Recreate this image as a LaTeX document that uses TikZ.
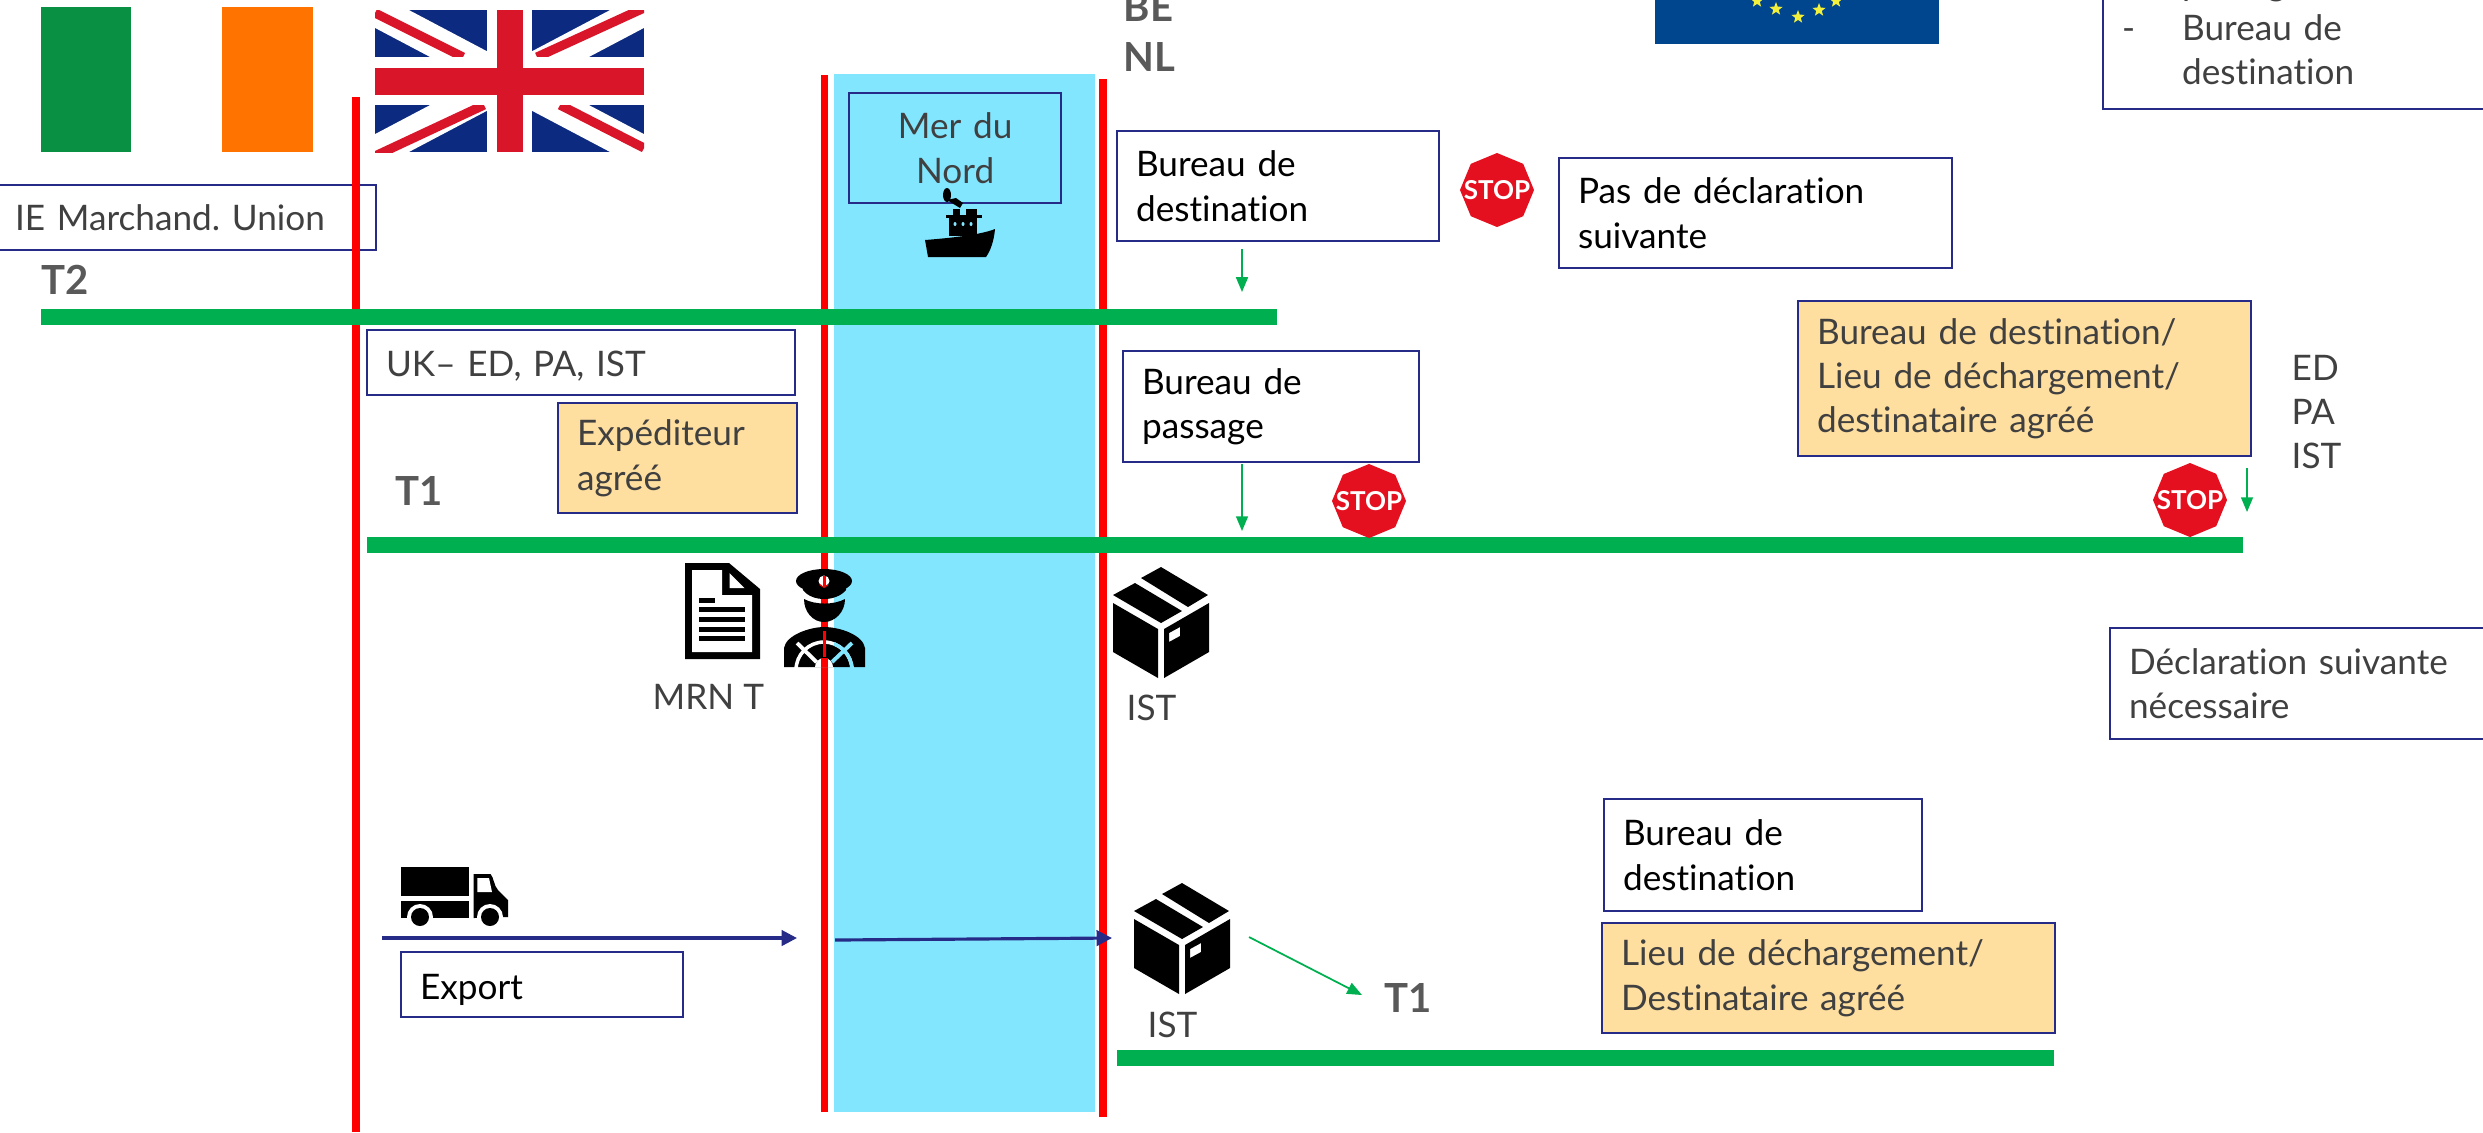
\documentclass[tikz,border=0pt]{standalone}
\usepackage{fontspec}
\setmainfont{Lato}[Ligatures=NoCommon]
\frenchspacing
\usetikzlibrary{arrows.meta,shapes.geometric}
\definecolor{bordure}{HTML}{262B87}
\definecolor{vertbarre}{HTML}{00B050}
\definecolor{mer}{HTML}{83E6FF}
\definecolor{orangeclair}{HTML}{FFDFA0}
\definecolor{grisfonce}{HTML}{404040}
\definecolor{griscode}{HTML}{595959}
\definecolor{rougestop}{HTML}{E5101F}
\definecolor{bleuuk}{HTML}{0B2A80}
\definecolor{rougeuk}{HTML}{D9152A}
\definecolor{bleueu}{HTML}{00468F}
\definecolor{jauneeu}{HTML}{F2F03A}
\definecolor{vertie}{HTML}{0A9043}
\definecolor{orangeie}{HTML}{FF7300}
\newcommand{\stoptexte}{\raisebox{-0.09cm}[0pt][0pt]{\makebox[0pt]{STOP}}}
\tikzset{
	texte/.style={font=\fontsize{10}{12.6}\selectfont},
	boite/.style 2 args={texte,draw=bordure,line width=0.6pt,anchor=north west,align=left,inner xsep=0.19cm,inner ysep=0pt,text width=#1-0.38cm,minimum height=#2,text=black},
	boiteorange/.style 2 args={boite={#1}{#2},fill=orangeclair,text=grisfonce},
	etiquette/.style={texte,anchor=west,inner sep=0pt,align=left,text=grisfonce},
	code/.style={font=\fontsize{11.4}{14}\selectfont\bfseries,anchor=west,inner sep=0pt,align=left,text=griscode},
	frontiere/.style={fill=red},
	barre/.style={fill=vertbarre},
	flecheverte/.style={-{Triangle[length=4.2pt,width=3.4pt]},vertbarre,line width=0.5pt},
	flechebleue/.style={-{Triangle[length=4.4pt,width=4.4pt]},bordure,line width=0.9pt},
	panneau/.style={regular polygon,regular polygon sides=8,shape border rotate=22.5,fill=rougestop,inner sep=0pt,minimum size=0.74cm,text=white,font=\fontsize{7.4}{8}\selectfont\bfseries},
	etoile/.style={star,star points=5,star point ratio=2.4,fill=jauneeu,inner sep=0pt,minimum size=0.14cm},
	colis/.pic={
		\fill[black] (48,0) -- (95,28) -- (75,40) -- (28,11) -- cycle;
		\fill[black] (22,16) -- (69,44) -- (48,56) -- (0,28) -- cycle;
		\fill[black] (0,36) -- (45,62) -- (45,111) -- (0,85) -- cycle;
		\fill[black,even odd rule] (51,62) -- (96,36) -- (96,85) -- (51,111) -- cycle (56,66) -- (67,60) -- (67,69) -- (56,75) -- cycle;
	},
}
\begin{document}
\begin{tikzpicture}[x=0.01cm,y=-0.01cm]
	\path[use as bounding box,clip] (0,0) rectangle (2483,1132);
	% mer et frontieres
	\fill[mer] (834,74) rectangle (1095,1112);
	\node[boite={2.12cm}{1.10cm},align=center,text=grisfonce] (nord) at (848,92){Mer du\\Nord};
	\node[boite={3.80cm}{0.65cm},text=grisfonce] (marchand) at (-5,184){IE Marchand. Union};
	\fill[frontiere] (352,97) rectangle (360,1132);
	\fill[frontiere] (821,75) rectangle (828,1112);
	\fill[frontiere] (1099,79) rectangle (1107,1117);
	% drapeaux
	\fill[vertie] (41,7) rectangle (131,152);
	\fill[orangeie] (222,7) rectangle (313,152);
	\begin{scope}
		\clip (375,10) rectangle (644,152);
		\fill[bleuuk] (375,10) rectangle (644,152);
		\draw[white,line width=9pt] (375,10) -- (644,152);
		\draw[white,line width=9pt] (375,152) -- (644,10);
		\draw[rougeuk,line width=2.6pt] (375,13) -- (463,57);
		\draw[rougeuk,line width=2.6pt] (560,105) -- (644,148);
		\draw[rougeuk,line width=2.6pt] (375,156) -- (484,105);
		\draw[rougeuk,line width=2.6pt] (537,57) -- (644,8);
		\fill[white] (487,10) rectangle (532,152);
		\fill[white] (375,57) rectangle (644,105);
		\fill[rougeuk] (497,10) rectangle (523,152);
		\fill[rougeuk] (375,68) rectangle (644,95);
	\end{scope}
	\fill[bleueu] (1655,0) rectangle (1939,44);
	\node[etoile] (e1) at (1757,1){};
	\node[etoile] (e2) at (1776,9){};
	\node[etoile] (e3) at (1798,17){};
	\node[etoile] (e4) at (1819,10){};
	\node[etoile] (e5) at (1836,1){};
	% barres T1 T2
	\fill[barre] (41,309) rectangle (1277,325);
	\fill[barre] (367,537) rectangle (2243,553);
	\fill[barre] (1117,1050) rectangle (2054,1066);
	% boites
	\node[boite={3.22cm}{1.10cm}] (dest1) at (1116,130){Bureau de\\destination};
	\node[boite={3.93cm}{1.10cm}] (suivante1) at (1558,157){Pas de déclaration\\suivante};
	\node[boite={4.28cm}{0.65cm},text=grisfonce] (uk) at (366,329){\rule{0pt}{0.32cm}UK– ED, PA, IST};
	\node[boiteorange={2.39cm}{1.10cm}] (agree) at (557,402){Expéditeur\\agréé};
	\node[boite={2.96cm}{1.11cm}] (passage) at (1122,350){Bureau de\\passage};
	\node[boiteorange={4.53cm}{1.55cm}] (lieu1) at (1797,300){Bureau de destination/\\Lieu de déchargement/\\destinataire agréé};
	\node[boite={5.00cm}{1.56cm},text=grisfonce] (liste) at (2102,-48){\hspace*{0.6cm}passage\\\makebox[0.6cm][l]{-}Bureau de\\\hspace*{0.6cm}destination};
	\node[boite={4.00cm}{1.11cm},text=grisfonce] (suivante2) at (2109,627){Déclaration suivante\\nécessaire};
	\node[boite={2.82cm}{0.65cm}] (export) at (400,951){\rule{0pt}{0.36cm}Export};
	\node[boite={3.18cm}{1.12cm}] (dest2) at (1603,798){Bureau de\\destination};
	\node[boiteorange={4.53cm}{1.10cm}] (lieu2) at (1601,922){Lieu de déchargement/\\Destinataire agréé};
	% textes libres
	\node[code] (t2) at (41,280){T2};
	\node[code] (t1a) at (395,491){T1};
	\node[code] (t1b) at (1384,998){T1};
	\node[code] (pays) at (1123,32){BE\\NL};
	\node[etiquette] (bureaux) at (2291,412){ED\\PA\\IST};
	\node[etiquette] (mrn) at (652,697){MRN T};
	\node[etiquette] (ist1) at (1126,708){IST};
	\node[etiquette] (ist2) at (1147,1025){IST};
	% panneaux stop
	\node[panneau] (stop1) at (1497,190){\stoptexte};
	\node[panneau] (stop2) at (1369,501){\stoptexte};
	\node[panneau] (stop3) at (2190,500){\stoptexte};
	% fleches
	\coordinate (fa1) at (1242,249);
	\coordinate (fa2) at (1242,292);
	\coordinate (fb1) at (1242,464);
	\coordinate (fb2) at (1242,531);
	\coordinate (fc1) at (2247,468);
	\coordinate (fc2) at (2247,512);
	\coordinate (fd1) at (1249,937);
	\coordinate (fd2) at (1362,995);
	\coordinate (ga1) at (382,938);
	\coordinate (ga2) at (797,938);
	\coordinate (gb1) at (835,940);
	\coordinate (gb2) at (1112,938);
	\draw (fa1) edge [flecheverte] (fa2);
	\draw (fb1) edge [flecheverte] (fb2);
	\draw (fc1) edge [flecheverte] (fc2);
	\draw (fd1) edge [flecheverte] (fd2);
	\draw (ga1) edge [flechebleue] (ga2);
	\draw (gb1) edge [flechebleue] (gb2);
	% colis
	\pic (colis1) at (1113,567) {colis};
	\pic (colis2) at (1134,883) {colis};
	% document
	\fill[black] (685,563) -- (729,563) -- (760,589) -- (760,659) -- (685,659) -- cycle;
	\fill[white] (692,570) -- (722,570) -- (722,595) -- (752,595) -- (752,652) -- (692,652) -- cycle;
	\fill[white] (729.5,573) -- (744.5,588) -- (729.5,588) -- cycle;
	\fill[black] (699,598) rectangle (715,603);
	\foreach \ligne in {607,617,627,636} {
		\fill[black] (699,\ligne) rectangle (745,\ligne+5);
	}
	% capitaine
	\fill[black] (824,581) ellipse (28 and 12);
	\fill[black] (802,581) -- (803,590) .. controls (812,602) and (836,602) .. (846,590) -- (847,581) -- cycle;
	\fill[white] (824,581) circle (5.5);
	\fill[red] (823,576) rectangle (825.5,586);
	\fill[red] (820,584) -- (824,587) -- (828,584) -- (828,585.5) -- (824,588) -- (820,585.5) -- cycle;
	\fill[black] (804,599) .. controls (815,605) and (834,605) .. (845,599) .. controls (845,612) and (835,622) .. (824,622) .. controls (813,622) and (804,612) .. (804,599) -- cycle;
	\fill[black] (784,667) -- (784,648) .. controls (786,635) and (810,627) .. (824,627) .. controls (840,627) and (863,635) .. (865,648) -- (865,667) -- cycle;
	\begin{scope}
		\clip (784,640) rectangle (865,667);
		\draw[white,line width=1pt] (824,670) circle (28);
		\clip (834,640) rectangle (865,667);
		\draw[mer,line width=1pt] (824,670) circle (28);
	\end{scope}
	\draw[white,line width=1.1pt] (797,643) -- (816.5,662);
	\draw[mer,line width=1.1pt] (852,643) -- (832,662);
	\fill[red] (822.5,631) rectangle (826,657);
	\fill[white] (815,667) arc[start angle=180,end angle=360,radius=9] -- cycle;
	\fill[red] (821,658) rectangle (828,667);
	% bateau
	\fill[black] (925,240) .. controls (950,238) and (980,235) .. (995,229) .. controls (994,240) and (991,250) .. (986,257) -- (928,257) -- cycle;
	\fill[black] (949,218) rectangle (977,236);
	\fill[black] (946,215) rectangle (982,218);
	\fill[black] (953,209) rectangle (960,216);
	\fill[black] (966,209) rectangle (977,216);
	\foreach \hublot in {955,963,971} {
		\fill[mer] (\hublot,224) ellipse (1.5 and 2);
	}
	\fill[black] (947,195) ellipse (4 and 7);
	\fill[black] (947,200) -- (956,198) -- (963,203) -- (960,208) -- cycle;
	% camion
	\fill[black] (400.5,867) rectangle (469,896);
	\fill[black] (400.5,901) rectangle (469,918);
	\fill[black] (473.5,874) -- (490.6,874) .. controls (494,878) and (494,886) .. (498,890) -- (508,900) -- (508,917) -- (473.5,918) -- cycle;
	\fill[white] (477.4,878) -- (489,878) -- (492,892) -- (477.4,892) -- cycle;
	\fill[white] (420,917) circle (13);
	\fill[white] (490,917) circle (13);
	\fill[black] (420,917) circle (9);
	\fill[black] (490,917) circle (9);
\end{tikzpicture}
\end{document}
